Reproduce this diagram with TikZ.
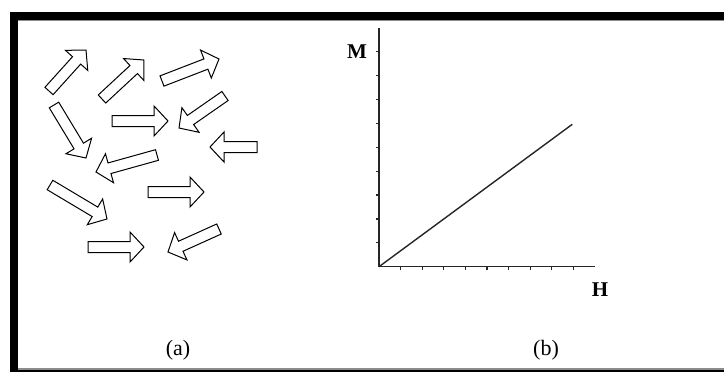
\documentclass[tikz,border=0pt]{standalone}
\usepackage{fontspec}
\setmainfont{Liberation Serif}
\usetikzlibrary{calc}
\begin{document}
\begin{tikzpicture}[x=1pt,y=-1pt,
  magarrow/.style={draw=black, line width=1pt, fill=white, line join=miter},
  axis/.style={draw=black!85, line width=1.5pt},
  tick/.style={draw=black!85, line width=1.2pt},
  curve/.style={draw=black!85, line width=1.4pt},
  axlabel/.style={font=\fontsize{21}{24}\selectfont\bfseries, inner sep=0pt},
  sublabel/.style={font=\fontsize{22}{26}\selectfont, inner sep=0pt}]
\newcommand\magarr[4]{%
  \pgfmathsetmacro\mgang{atan2(-(#4-#2),#3-#1)}%
  \pgfmathsetmacro\mglen{veclen(#3-#1,#4-#2)}%
  \pgfmathsetmacro\mgbase{\mglen-14}%
  \draw[magarrow, shift={(#1,#2)}, rotate=\mgang]
    (0,-5.5) -- (\mgbase,-5.5) -- (\mgbase,-15) -- (\mglen,0)
    -- (\mgbase,15) -- (\mgbase,5.5) -- (0,5.5) -- cycle;}
\useasboundingbox (0,0) rectangle (724,372);
\fill[white] (0,0) rectangle (724,372);
% frame
\fill[black] (10,12) rectangle (724,20);
\fill[black!45] (18,20) rectangle (724,21);
\fill[black] (10,12) rectangle (18,372);
\fill[black!45] (18,368) rectangle (724,370);
\fill[black] (18,370) rectangle (724,372);
% (a) randomly oriented moments
\magarr{49}{91}{86}{50}
\magarr{102}{99}{144}{60}
\magarr{162}{81}{219}{59}
\magarr{54}{105}{86}{158}
\magarr{112}{121}{168}{121}
\magarr{225}{96}{179}{128}
\magarr{257}{147}{210}{147}
\magarr{157}{155}{96}{172}
\magarr{50}{185}{107}{219}
\magarr{148}{192}{204}{192}
\magarr{88}{247}{144}{247}
\magarr{219}{229}{168}{252}
% (b) M-H plot
\coordinate (O) at (379,266.7);
\coordinate (ytop) at (379,28);
\coordinate (xend) at (595,266.7);
\coordinate (lend) at (572.3,124.3);
\draw[axis] (ytop) -- (O) -- (xend);
\foreach \k in {1,...,9}{
  \draw[tick] ($(O)+(0,-23.87*\k)$) -- ++(-3.5,0);
  \draw[tick] ($(O)+(21.6*\k,0)$) -- ++(0,3.5);
}
\draw[curve] (O) -- (lend);
\node[axlabel] (M) at (357,52) {M};
\node[axlabel] (H) at (600,290) {H};
\node[sublabel] (la) at (178,350) {(a)};
\node[sublabel] (lb) at (546,350) {(b)};
\end{tikzpicture}
\end{document}
